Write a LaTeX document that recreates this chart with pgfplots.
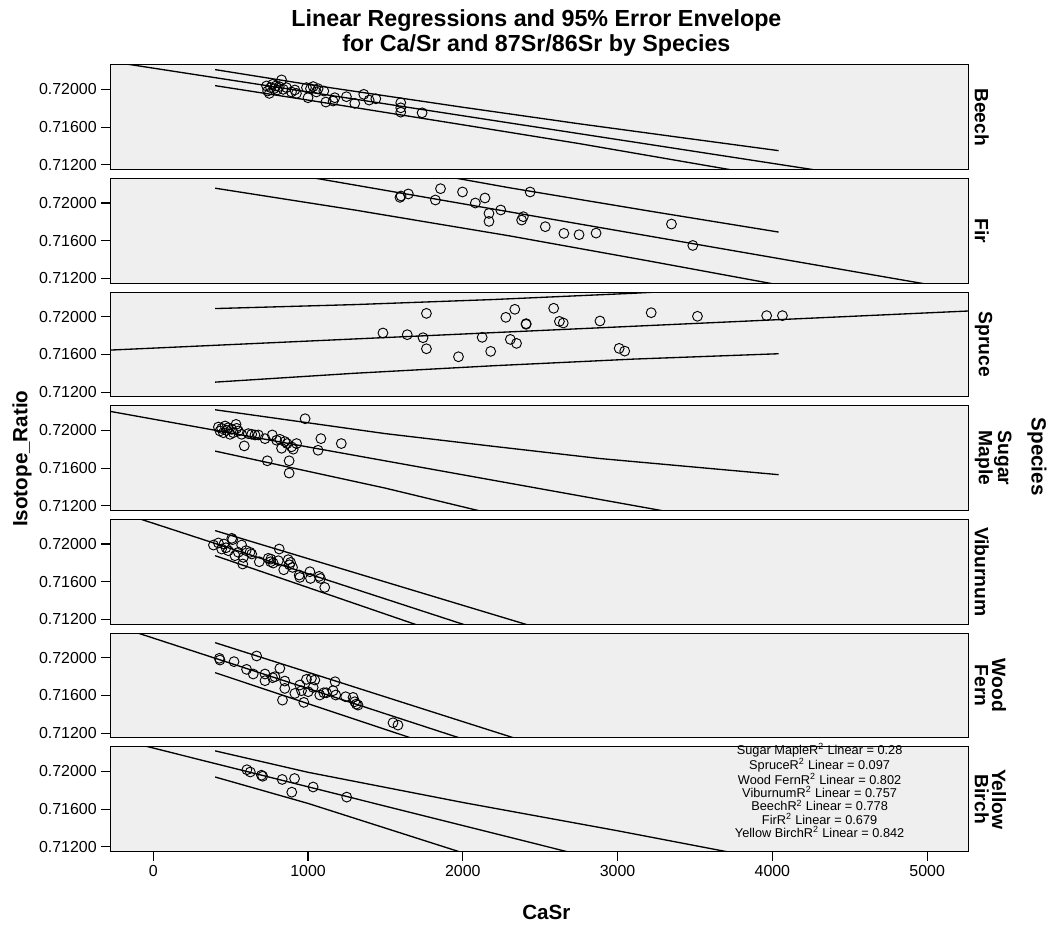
\documentclass[border=0pt]{standalone}
\usepackage{pgfplots}
\pgfplotsset{compat=1.18}
\usepackage{fontspec}
\setmainfont{Liberation Sans}
\definecolor{panelbg}{HTML}{EFEFEF}
\pgfplotsset{
  panel/.style={
    at={(83.25pt,#1)}, anchor=north west,
    scale only axis, width=645pt, height=78.75pt,
    xmin=-275, xmax=5265, ymin=0.7115, ymax=0.7226,
    axis background/.style={fill=panelbg},
    ytick={0.712,0.716,0.72},
    scaled y ticks=false,
    /pgf/number format/assume math mode=true,
    yticklabel style={/pgf/number format/.cd, fixed, fixed zerofill, precision=5, /tikz/.cd},
    tick label style={font=\fontsize{12}{14}\selectfont},
    tick align=outside, ytick pos=left, xtick=\empty,
    major tick length=7pt,
    every tick/.style={black, line width=0.8pt},
    axis line style={black, line width=0.9pt},
  },
  fitl/.style={black, line width=1pt, no marks},
  pts/.style={black, only marks, mark=o, mark size=3.7pt, mark options={line width=0.7pt}},
}
\begin{document}
\begin{tikzpicture}
\begin{scope}[x=0.75pt,y=-0.75pt]
\useasboundingbox (0,0) rectangle (1051,928);
\end{scope}

% ---------------- Beech
\begin{axis}[panel=-48.75pt]
\addplot[fitl] coordinates {(-275,0.72294) (5265,0.70896)};
\addplot[fitl] coordinates {(400,0.72209) (1000,0.72052) (2000,0.71810) (2751,0.71635) (3400,0.71491) (4040,0.71350)};
\addplot[fitl] coordinates {(400,0.72039) (1000,0.71886) (2000,0.71624) (2751,0.71425) (3400,0.71241) (4040,0.71060)};
\addplot[pts] coordinates {
(732,0.72036) (739,0.71982) (750,0.71957) (758,0.72018) (771,0.72053) (780,0.72007)
(793,0.72036) (801,0.71993) (814,0.72029) (829,0.72100) (840,0.72000) (861,0.72018)
(893,0.71972) (915,0.71993) (925,0.71957) (990,0.72018) (1000,0.71911) (1016,0.72007)
(1033,0.72029) (1054,0.71972) (1065,0.72007) (1102,0.71982) (1115,0.71865) (1162,0.71876)
(1173,0.71911) (1248,0.71922) (1302,0.71851) (1360,0.71947) (1395,0.71886) (1438,0.71900)
(1599,0.71858) (1599,0.71804) (1599,0.71758) (1737,0.71751)};
\end{axis}

% ---------------- Fir
\begin{axis}[panel=-134.25pt]
\addplot[fitl] coordinates {(-275,0.72639) (5265,0.71063)};
\addplot[fitl] coordinates {(400,0.72737) (1300,0.72456) (2300,0.72162) (3200,0.71916) (4040,0.71692)};
\addplot[fitl] coordinates {(400,0.72157) (1300,0.71926) (2300,0.71652) (3200,0.71386) (4040,0.71132)};
\addplot[pts] coordinates {
(1594,0.72060) (1601,0.72074) (1648,0.72096) (1823,0.72032) (1856,0.72152) (1998,0.72117)
(2081,0.72000) (2143,0.72053) (2169,0.71890) (2169,0.71805) (2245,0.71926) (2380,0.71819)
(2391,0.71855) (2435,0.72117) (2533,0.71749) (2653,0.71678) (2751,0.71664) (2861,0.71681)
(3348,0.71777) (3486,0.71550)};
\end{axis}

% ---------------- Spruce
\begin{axis}[panel=-219.75pt]
\addplot[fitl] coordinates {(-275,0.71646) (5265,0.72060)};
\addplot[fitl] coordinates {(400,0.72086) (1300,0.72128) (2200,0.72182) (3100,0.72248) (4040,0.72329)};
\addplot[fitl] coordinates {(400,0.71306) (1300,0.71400) (2200,0.71480) (3100,0.71550) (4040,0.71607)};
\addplot[pts] coordinates {
(1765,0.72035) (1484,0.71827) (1641,0.71809) (1743,0.71777) (1765,0.71660) (1972,0.71575)
(2125,0.71781) (2180,0.71632) (2278,0.71993) (2336,0.72078) (2307,0.71759) (2347,0.71717)
(2409,0.71926) (2409,0.71919) (2587,0.72089) (2624,0.71950) (2649,0.71933) (2886,0.71954)
(3010,0.71664) (3046,0.71635) (3217,0.72042) (3516,0.72004) (3963,0.72011) (4065,0.72011)};
\end{axis}

% ---------------- Sugar Maple
\begin{axis}[panel=-305.25pt]
\addplot[fitl] coordinates {(-275,0.72200) (5265,0.70565)};
\addplot[fitl] coordinates {(400,0.72218) (1500,0.71965) (2200,0.71830) (2880,0.71702) (4040,0.71530)};
\addplot[fitl] coordinates {(400,0.71780) (1500,0.71387) (2200,0.71110) (2880,0.70836) (4040,0.70324)};
\addplot[pts] coordinates {
(421,0.72035) (431,0.71993) (442,0.72021) (453,0.71975) (464,0.72046) (474,0.72000)
(485,0.72028) (496,0.71958) (507,0.72011) (517,0.71975) (535,0.72063) (539,0.72021)
(550,0.71993) (571,0.71958) (588,0.71835) (614,0.71965) (636,0.71958) (657,0.71951)
(679,0.71951) (722,0.71912) (737,0.71677) (769,0.71951) (797,0.71895) (818,0.71905)
(829,0.71810) (850,0.71881) (865,0.71860) (878,0.71677) (878,0.71547) (893,0.71825)
(904,0.71800) (926,0.71860) (981,0.72123) (1065,0.71789) (1083,0.71912) (1215,0.71860)};
\end{axis}

% ---------------- Viburnum
\begin{axis}[panel=-390.75pt]
\addplot[fitl] coordinates {(-275,0.72367) (5265,0.69403)};
\addplot[fitl] coordinates {(400,0.72142) (1200,0.71746) (2000,0.71350) (2800,0.70954) (4040,0.70340)};
\addplot[fitl] coordinates {(400,0.71876) (1200,0.71426) (2000,0.70975) (2800,0.70525) (4040,0.69827)};
\addplot[pts] coordinates {
(389,0.71989) (421,0.72011) (442,0.71947) (457,0.72000) (485,0.71929) (507,0.72060)
(513,0.72046) (528,0.71876) (550,0.71912) (571,0.71989) (578,0.71788) (582,0.71858)
(625,0.71912) (636,0.71894) (685,0.71812) (743,0.71848) (758,0.71812) (775,0.71798)
(814,0.71947) (808,0.71823) (843,0.71727) (872,0.71834) (887,0.71805) (900,0.71752)
(943,0.71671) (947,0.71646) (1012,0.71706) (1016,0.71635) (1072,0.71657) (1080,0.71635)
(1108,0.71540) (470,0.71960) (600,0.71930) (760,0.71840) (880,0.71780)};
\end{axis}

% ---------------- Wood Fern
\begin{axis}[panel=-476.25pt]
\addplot[fitl] coordinates {(-275,0.72355) (5265,0.69391)};
\addplot[fitl] coordinates {(400,0.72159) (1200,0.71741) (2000,0.71322) (2800,0.70904) (4040,0.70255)};
\addplot[fitl] coordinates {(400,0.71841) (1200,0.71403) (2000,0.70966) (2800,0.70528) (4040,0.69850)};
\addplot[pts] coordinates {
(427,0.71993) (431,0.71975) (522,0.71958) (603,0.71876) (646,0.71827) (668,0.72018)
(722,0.71827) (722,0.71756) (771,0.71788) (786,0.71798) (818,0.71887) (835,0.71550)
(850,0.71752) (850,0.71674) (915,0.71621) (947,0.71710) (958,0.71650) (973,0.71526)
(990,0.71770) (1001,0.71639) (1022,0.71781) (1033,0.71685) (1044,0.71763) (1076,0.71604)
(1102,0.71628) (1119,0.71628) (1162,0.71650) (1175,0.71745) (1179,0.71604) (1243,0.71586)
(1291,0.71579) (1302,0.71533) (1312,0.71508) (1323,0.71497) (1549,0.71310) (1581,0.71285)};
\end{axis}

% ---------------- Yellow Birch
\begin{axis}[panel=-561.75pt,
  xtick={0,1000,2000,3000,4000,5000}, xtick pos=bottom,
  xticklabel style={/pgf/number format/.cd, 1000 sep={}, /tikz/.cd}]
\addplot[fitl] coordinates {(-275,0.72360) (5265,0.70084)};
\addplot[fitl] coordinates {(400,0.72217) (1000,0.71990) (2000,0.71670) (3000,0.71370) (3700,0.71150) (4040,0.71070)};
\addplot[fitl] coordinates {(400,0.71940) (1000,0.71660) (2000,0.71136) (3000,0.70582) (4040,0.69984)};
\addplot[pts] coordinates {
(605,0.72017) (627,0.71993) (699,0.71959) (707,0.71948) (833,0.71914) (913,0.71924)
(895,0.71779) (1033,0.71834) (1250,0.71727)};
\end{axis}

\begin{scope}[x=0.75pt,y=-0.75pt]
\node[font=\bfseries\fontsize{17.5}{18.75}\selectfont, align=center] at (538,33)
  {Linear Regressions and 95\% Error Envelope\\for Ca/Sr and 87Sr/86Sr by Species};
\node[rotate=90, font=\bfseries\fontsize{15.5}{17}\selectfont] at (22,460) {Isotope\_Ratio};
\node[font=\bfseries\fontsize{15.5}{17}\selectfont] at (548,915) {CaSr};
\node[rotate=-90, font=\bfseries\fontsize{15.5}{17}\selectfont] at (1040,458) {Species};
\foreach \yy/\lab in {117.5/Beech, 231.5/Fir, 345.5/Spruce, 459.5/{Sugar\\Maple},
    573.5/Viburnum, 687.5/{Wood\\Fern}, 801.5/{Yellow\\Birch}}
  \node[rotate=-90, anchor=south, align=center, inner sep=1pt,
        font=\bfseries\fontsize{14.5}{13}\selectfont] at (976,\yy) {\lab};
\node[anchor=north, align=center, inner sep=0pt, font=\fontsize{9.6}{10}\selectfont] at (822,745)
  {Sugar MapleR\textsuperscript{2} Linear = 0.28\\
   SpruceR\textsuperscript{2} Linear = 0.097\\
   Wood FernR\textsuperscript{2} Linear = 0.802\\
   ViburnumR\textsuperscript{2} Linear = 0.757\\
   BeechR\textsuperscript{2} Linear = 0.778\\
   FirR\textsuperscript{2} Linear = 0.679\\
   Yellow BirchR\textsuperscript{2} Linear = 0.842};
\end{scope}
\end{tikzpicture}
\end{document}
